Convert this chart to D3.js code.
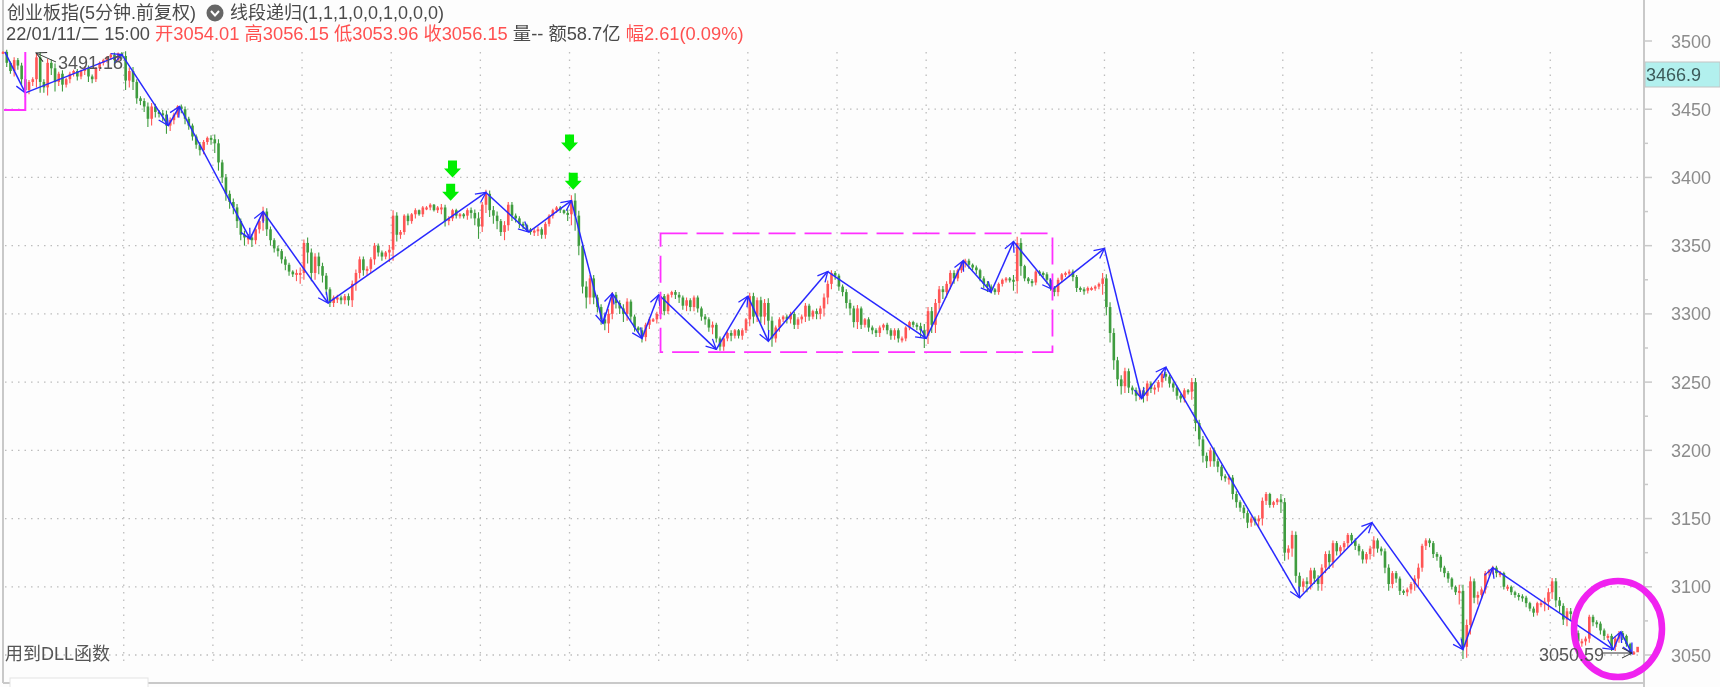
<!DOCTYPE html>
<html><head><meta charset="utf-8">
<script src="https://cdn.jsdelivr.net/npm/d3@7/dist/d3.min.js"></script>
<style>
html,body{margin:0;padding:0;background:#fdfdfd;overflow:hidden}
svg{display:block;filter:blur(0.6px)}
text{font-family:"Liberation Sans","Noto Sans CJK SC",sans-serif;font-size:18px}
</style></head><body>
<svg id="c" width="1720" height="687"></svg>
<script>
// 5-minute closes, read every second bar
const closes = [
3492,3484,3478,3486,3482,3472,3464,3470,3472,3488,3470,3466,3484,3480,3470,3476,3468,3472,3476,3478,3474,3478,3480,3474,3472,3480,3484,3486,3488,3490,3486,3491,3489,
3471,3478,3470,3458,3456,3452,3443,3452,3448,3447,3446,3438,3442,3446,3452,3450,3443,3438,3430,3424,3420,3426,3429,3428,3425,
3411,3400,3388,3382,3378,3368,3358,3356,3356,3354,3362,3368,3375,3362,3354,3348,3346,3340,3336,3331,3329,3330,3330,
3352,3345,3330,3342,3335,3328,3318,3308,3312,3312,3310,3313,3310,3322,3330,3340,3332,3333,3340,3350,3345,3342,3345,3347,
3372,3358,3360,3372,3368,3373,3376,3373,3378,3378,3380,3376,3378,3378,3368,3370,3376,3372,3373,3372,3376,3374,3370,3364,3380,
3388,3376,3372,3368,3360,3365,3380,3372,3370,3366,3365,3362,3360,3361,3362,3358,3366,3372,3376,3378,3376,3374,3373,
3383,3372,3350,3320,3312,3326,3312,3305,3296,3293,3300,3314,3308,3304,3300,3309,3298,3290,3288,3283,3292,3296,3296,3300,
3313,3302,3314,3316,3314,3312,3306,3310,3305,3312,3304,3298,3296,3290,3292,3282,3276,3282,3286,3284,3288,3284,3288,3296,
3313,3298,3310,3298,3308,3295,3282,3290,3296,3298,3296,3300,3292,3296,3298,3306,3298,3302,3300,3304,3312,3322,3330,3328,
3320,3316,3308,3304,3294,3304,3292,3296,3290,3288,3286,3290,3292,3288,3284,3288,3282,3282,3290,3294,3292,3291,3288,3284,
3302,3292,3308,3318,3316,3322,3330,3326,3332,3337,3339,3336,3334,3332,3326,3322,3320,3318,3316,3322,3325,3326,3325,3324,
3352,3335,3326,3324,3323,3331,3330,3329,3325,3319,3316,3325,3329,3330,3331,3327,3319,3318,3317,3319,3319,3320,3322,3326,
3305,3286,3266,3252,3247,3258,3246,3244,3240,3244,3240,3249,3245,3246,3250,3256,3254,3249,3246,3240,3238,3244,3243,3250,
3220,3208,3196,3192,3200,3192,3188,3181,3180,3180,3168,3162,3158,3154,3147,3150,3148,3150,3163,3168,3160,3162,3164,3162,
3125,3128,3138,3108,3100,3104,3102,3112,3106,3102,3114,3124,3118,3132,3126,3129,3132,3138,3134,3130,3126,3120,3124,3128,
3134,3128,3126,3114,3102,3110,3106,3097,3096,3098,3102,3106,3114,3130,3134,3132,3124,3122,3114,3110,3106,3100,3096,3097,
3056,3072,3104,3092,3094,3098,3110,3112,3114,3110,3110,3100,3100,3096,3094,3093,3092,3088,3084,3081,3088,3088,3089,3096,3104,3090,3086,3076,3082,3080,3066,3060,3060,3062,3078,3074,3073,3068,3064,3064,3056,3062,3066,3064,3058,3052,3052,3056
];
// wick reach beyond the candle body, estimated per bar
const wicks = [
1,3,2,4,3,4,5,3,3,6,8,4,6,5,7,3,5,2,3,2,3,2,3,4,3,2,2,2,2,2,3,1,2,
7,5,6,4,3,4,6,5,4,3,5,6,4,3,2,3,4,3,3,3,4,3,2,4,
7,6,4,5,5,5,5,4,6,5,5,3,3,7,5,4,3,4,3,4,3,2,5,
8,5,8,6,5,6,5,4,3,3,4,3,3,4,5,5,4,4,4,3,4,3,3,2,
7,8,5,3,2,3,2,3,1,2,2,2,1,2,5,4,3,2,2,2,2,3,4,5,9,
4,6,5,6,6,3,6,4,4,3,3,3,2,2,3,4,3,3,2,2,2,2,1,
5,8,11,7,5,8,5,5,4,4,5,7,4,4,4,6,5,3,3,2,4,3,3,2,
3,4,3,2,2,3,4,3,4,3,3,3,3,4,3,5,3,3,3,2,4,2,2,3,
2,5,5,4,5,6,7,6,3,3,2,3,3,3,3,3,4,3,2,4,4,6,5,4,
3,3,3,4,5,4,5,3,2,3,3,3,3,2,3,3,3,3,3,2,2,2,3,5,
9,6,6,6,5,5,4,4,4,2,2,3,3,2,3,2,3,4,3,2,2,2,2,2,
7,9,7,2,2,3,2,2,2,3,2,3,3,2,2,3,3,3,2,3,2,2,2,2,
8,6,7,7,5,6,5,4,3,4,3,5,4,3,4,3,4,3,3,3,3,3,3,2,
6,6,5,5,5,4,4,4,3,3,5,4,4,3,4,4,3,3,5,5,3,2,2,2,
8,6,5,6,5,5,4,6,4,4,5,5,4,5,4,3,3,3,3,3,3,3,3,3,
4,6,3,3,4,5,3,3,3,2,3,3,5,6,3,3,3,3,3,3,3,3,2,2,
9,9,8,7,4,5,3,3,2,3,3,3,2,3,2,2,3,3,3,2,3,2,3,6,6,5,5,5,4,5,5,4,4,4,3,3,3,3,3,3,3,3,3,3,3,2,2,2
];
const barStep = 2;
const zigzagBars   = [1,12,64,89,95,133,140,175,260,283,306,323,328,344,353,384,401,412,444,497,517,532,544,565,593,613,626,698,737,786,802,867,871,877];
const zigzagPrices = [3492,3462,3490,3438,3452,3355,3375,3308,3389,3360,3383,3293,3315,3282,3314,3274,3313,3280,3331,3282,3339,3316,3353,3318,3348,3238,3261,3092,3147,3054,3114,3054,3067,3051];
const signalBars   = [242,241,305,307];
const signalPrices = [3400,3383,3419,3391];
const majorTicks = [3050,3100,3150,3200,3250,3300,3350,3400,3450,3500];
const minorTicks = [3075,3125,3175,3225,3275,3325,3375,3425,3475];
const gridPrices = [3050,3100,3150,3200,3250,3300,3350,3400,3450];
const dayBars = [65,113,161,209,257,305,353,401,449,497,545,593,641,689,737,785,833];
const boxBars = [354,565], boxPrices = [3272,3359];
const titleLeft = "创业板指(5分钟.前复权)";
const titleRight = "线段递归(1,1,1,0,0,1,0,0,0)";
const quoteParts = [["22/01/11/二 15:00 ","#4a4a4a"],["开3054.01 高3056.15 低3053.96 收3056.15 ","#ff5050"],["量-- 额58.7亿 ","#4a4a4a"],["幅2.61(0.09%)","#ff5050"]];

const RED="#ff5555",GREEN="#3f9c3f",BLUE="#2828ff",MAG="#ff30ff",GRAY="#c9c9c9";
const x=d3.scaleLinear([0,884],[3,1645]);
const y=d3.scaleLinear([3050,3500],[655,41]);
const svg=d3.select("#c");
svg.append("rect").attr("width",1720).attr("height",687).attr("fill","#fdfdfd");

// grid
svg.append("g").selectAll("line").data(gridPrices).join("line")
 .attr("x1",5).attr("x2",1640).attr("y1",d=>y(d)).attr("y2",d=>y(d))
 .attr("stroke","#bdbdbd").attr("stroke-width",1.3).attr("stroke-dasharray","1.5 5");
svg.append("g").selectAll("line").data(dayBars).join("line")
 .attr("x1",d=>x(d)).attr("x2",d=>x(d)).attr("y1",52).attr("y2",661)
 .attr("stroke","#bdbdbd").attr("stroke-width",1.3).attr("stroke-dasharray","1.5 6");

// frame
svg.append("line").attr("x1",3).attr("x2",3).attr("y1",0).attr("y2",683).attr("stroke",GRAY).attr("stroke-width",2);
svg.append("line").attr("x1",1644).attr("x2",1644).attr("y1",0).attr("y2",687).attr("stroke",GRAY).attr("stroke-width",2);
svg.append("line").attr("x1",3).attr("x2",1644).attr("y1",683).attr("y2",683).attr("stroke",GRAY).attr("stroke-width",2);

// right axis
const axis=svg.append("g");
axis.selectAll("line.maj").data(majorTicks).join("line").attr("class","maj")
 .attr("x1",1644).attr("x2",1652).attr("y1",d=>y(d)).attr("y2",d=>y(d)).attr("stroke",GRAY).attr("stroke-width",1.5);
axis.selectAll("line.min").data(minorTicks).join("line").attr("class","min")
 .attr("x1",1644).attr("x2",1648).attr("y1",d=>y(d)).attr("y2",d=>y(d)).attr("stroke",GRAY).attr("stroke-width",1.5);
axis.selectAll("text").data(majorTicks).join("text").attr("x",1671).attr("y",d=>y(d)+6.5)
 .attr("fill","#8c8c8c").text(d=>d);

// current price tag
svg.append("rect").attr("x",1645).attr("y",62).attr("width",75).attr("height",25).attr("fill","#b2f0ee").attr("stroke","#c4c4c4");
svg.append("text").attr("x",1646).attr("y",81).attr("fill","#3c5a5a").text("3466.9");

// candles
const candles=closes.map((c,i)=>({bar:i*barStep,open:i?closes[i-1]:c,close:c,reach:wicks[i]}));
const cg=svg.append("g");
cg.selectAll("line").data(candles).join("line")
 .attr("x1",d=>x(d.bar)).attr("x2",d=>x(d.bar))
 .attr("y1",d=>y(Math.max(d.open,d.close)+d.reach*0.5))
 .attr("y2",d=>y(Math.min(d.open,d.close)-d.reach))
 .attr("stroke",d=>d.close>=d.open?RED:GREEN).attr("stroke-width",1.1);
cg.selectAll("rect").data(candles).join("rect")
 .attr("x",d=>x(d.bar)-1.25).attr("width",2.6)
 .attr("y",d=>Math.min(y(d.open),y(d.close)))
 .attr("height",d=>Math.max(2,Math.abs(y(d.open)-y(d.close))))
 .attr("fill",d=>d.close>=d.open?RED:GREEN);

// open arrowheads
const defs=svg.append("defs");
[["vb",BLUE,1.3],["vk","#333",1.0]].forEach(([id,col,w])=>{
 defs.append("marker").attr("id",id).attr("markerUnits","userSpaceOnUse").attr("orient","auto")
  .attr("markerWidth",16).attr("markerHeight",16).attr("refX",13).attr("refY",8).attr("viewBox","0 0 16 16")
  .append("path").attr("d","M3,3 L13,8 L3,13").attr("fill","none").attr("stroke",col).attr("stroke-width",w);
});

// zigzag
svg.append("g").selectAll("line").data(zigzagBars.slice(1)).join("line")
 .attr("x1",(d,i)=>x(zigzagBars[i])).attr("y1",(d,i)=>y(zigzagPrices[i]))
 .attr("x2",d=>x(d)).attr("y2",(d,i)=>y(zigzagPrices[i+1]))
 .attr("stroke",BLUE).attr("stroke-width",1.5).attr("marker-end","url(#vb)");

// signal arrows
svg.append("g").selectAll("path").data(signalBars).join("path")
 .attr("transform",(d,i)=>`translate(${x(d)},${y(signalPrices[i])})`)
 .attr("d","M0,0 L-8.5,-9 L-4.5,-9 L-4.5,-17 L4.5,-17 L4.5,-9 L8.5,-9 Z").attr("fill","#00ee00");

// magenta annotations
svg.append("rect").attr("x",x(boxBars[0])).attr("y",y(boxPrices[1]))
 .attr("width",x(boxBars[1])-x(boxBars[0])).attr("height",y(boxPrices[0])-y(boxPrices[1]))
 .attr("fill","none").attr("stroke",MAG).attr("stroke-width",1.8).attr("stroke-dasharray","27 9");
svg.append("path").attr("d",`M4,110 H${x(12)} V52`).attr("fill","none").attr("stroke",MAG).attr("stroke-width",2);
svg.append("ellipse").attr("cx",1618).attr("cy",629).attr("rx",44).attr("ry",48)
 .attr("fill","none").attr("stroke","#f022f0").attr("stroke-width",6.5);

// extreme labels
svg.append("text").attr("x",58).attr("y",69).attr("fill","#555").text("3491.18");
svg.append("line").attr("x1",56).attr("y1",62).attr("x2",36).attr("y2",53).attr("stroke","#444").attr("stroke-width",1).attr("marker-end","url(#vk)");
svg.append("text").attr("x",1539).attr("y",661).attr("fill","#555").text("3050.59");
svg.append("line").attr("x1",1603).attr("y1",653).attr("x2",1632).attr("y2",653).attr("stroke","#333").attr("stroke-width",1).attr("marker-end","url(#vk)");

// header
svg.append("text").attr("x",7).attr("y",19).attr("fill","#4a4a4a").text(titleLeft);
svg.append("circle").attr("cx",215).attr("cy",13).attr("r",8.5).attr("fill","#666");
svg.append("path").attr("d","M211,11 L215,15.5 L219,11").attr("fill","none").attr("stroke","#fff").attr("stroke-width",2);
svg.append("text").attr("x",230).attr("y",19).attr("fill","#4a4a4a").text(titleRight);
const q=svg.append("text").attr("x",6).attr("y",40).style("font-size","18.3px");
q.selectAll("tspan").data(quoteParts).join("tspan").attr("fill",d=>d[1]).text(d=>d[0]);
svg.append("text").attr("x",5).attr("y",660).attr("fill","#555").text("用到DLL函数");

// bottom tab
svg.append("rect").attr("x",10).attr("y",678).attr("width",138).attr("height",12).attr("fill","#fff").attr("stroke","#e4e4e4");
</script></body></html>
